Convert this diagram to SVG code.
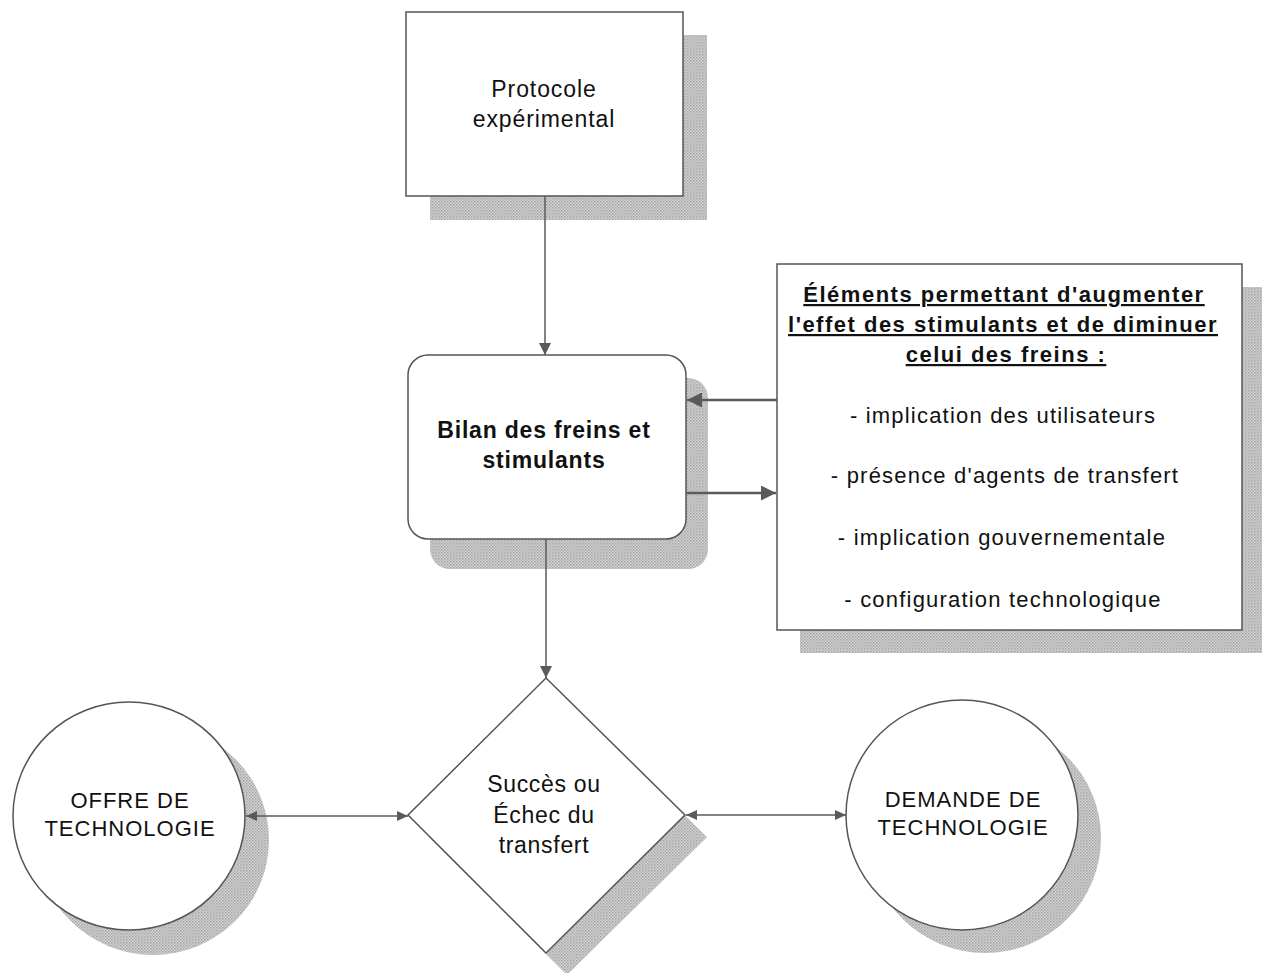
<svg xmlns="http://www.w3.org/2000/svg" width="1262" height="973" viewBox="0 0 1262 973">
  <style>
    .box { fill: #ffffff; stroke: #555555; stroke-width: 1.5; }
    .shadow { fill: url(#halftone); stroke: none; }
    .txt { font-family: "Liberation Sans", Arial, sans-serif; fill: #111111; text-anchor: middle; }
    .reg { font-size: 23px; letter-spacing: 0.9px; }
    .item { font-size: 22px; letter-spacing: 1.2px; }
    .caps { font-size: 22px; letter-spacing: 1px; }
    .bold { font-weight: bold; }
    .head { font-size: 22px; font-weight: bold; letter-spacing: 1.5px; text-decoration: underline; }
    .link { fill: none; stroke: #5a5a5a; stroke-width: 1.5; }
    .link-heavy { fill: none; stroke: #5a5a5a; stroke-width: 2.5; }
  </style>
  <defs>
    <pattern id="halftone" width="3" height="3" patternUnits="userSpaceOnUse">
      <rect width="3" height="3" fill="#d2d2d2"/>
      <rect x="0" y="0" width="1.5" height="1.5" fill="#a4a4a4"/>
      <rect x="1.5" y="1.5" width="1.5" height="1.5" fill="#b4b4b4"/>
    </pattern>
    <marker id="arrow" viewBox="0 0 12 12" refX="12" refY="6" markerWidth="12" markerHeight="12" markerUnits="userSpaceOnUse" orient="auto">
      <path d="M0,0 L12,6 L0,12 Z" fill="#5a5a5a"/>
    </marker>
    <marker id="arrow-big" viewBox="0 0 15 15" refX="15" refY="7.5" markerWidth="15" markerHeight="15" markerUnits="userSpaceOnUse" orient="auto">
      <path d="M0,0 L15,7.5 L0,15 Z" fill="#5a5a5a"/>
    </marker>
    <marker id="arrow-small" viewBox="0 0 11 10" refX="11" refY="5" markerWidth="11" markerHeight="10" markerUnits="userSpaceOnUse" orient="auto-start-reverse">
      <path d="M0,0 L11,5 L0,10 Z" fill="#5a5a5a"/>
    </marker>
  </defs>

  <rect width="1262" height="973" fill="#ffffff"/>

  <!-- Experimental protocol -->
  <g id="protocole">
    <rect class="shadow" x="430" y="35" width="277" height="185"/>
    <rect class="box" x="406" y="12" width="277" height="184"/>
    <text class="txt reg" x="544" y="97">Protocole</text>
    <text class="txt reg" x="544" y="127">expérimental</text>
  </g>

  <!-- Assessment of brakes and stimulants -->
  <g id="bilan">
    <rect class="shadow" x="430" y="378" width="278" height="191" rx="20"/>
    <rect class="box" x="408" y="355" width="278" height="184" rx="20"/>
    <text class="txt bold" x="544" y="438" style="font-size:23px;letter-spacing:0.8px">Bilan des freins et</text>
    <text class="txt bold" x="544" y="468" style="font-size:23px;letter-spacing:0.8px">stimulants</text>
  </g>

  <!-- Elements list -->
  <g id="elements">
    <rect class="shadow" x="800" y="287" width="462" height="366"/>
    <rect class="box" x="777" y="264" width="465" height="366"/>
    <text class="txt head" x="1004" y="302">Éléments permettant d'augmenter</text>
    <text class="txt head" x="1003" y="332">l'effet des stimulants et de diminuer</text>
    <text class="txt head" x="1006" y="362">celui des freins :</text>
    <text class="txt item" x="1003" y="423">- implication des utilisateurs</text>
    <text class="txt item" x="1005" y="483">- présence d'agents de transfert</text>
    <text class="txt item" x="1002" y="545">- implication gouvernementale</text>
    <text class="txt item" x="1003" y="607">- configuration technologique</text>
  </g>

  <!-- Decision: success or failure -->
  <g id="decision">
    <polygon class="shadow" points="567,700 707,837 567,975 429,837"/>
    <polygon class="box" points="546,678 685,815 546,953 408,815"/>
    <text class="txt reg" x="544" y="792" style="letter-spacing:0.7px">Succès ou</text>
    <text class="txt reg" x="544" y="823" style="letter-spacing:0.7px">Échec du</text>
    <text class="txt reg" x="544" y="853" style="letter-spacing:0.7px">transfert</text>
  </g>

  <!-- Technology supply -->
  <g id="offre">
    <ellipse class="shadow" cx="153" cy="840" rx="116" ry="115"/>
    <ellipse class="box" cx="129" cy="816" rx="116" ry="114"/>
    <text class="txt caps" x="130" y="808">OFFRE DE</text>
    <text class="txt caps" x="130" y="836">TECHNOLOGIE</text>
  </g>

  <!-- Technology demand -->
  <g id="demande">
    <ellipse class="shadow" cx="985" cy="838" rx="116" ry="115"/>
    <ellipse class="box" cx="962" cy="815" rx="116" ry="115"/>
    <text class="txt caps" x="963" y="807">DEMANDE DE</text>
    <text class="txt caps" x="963" y="835">TECHNOLOGIE</text>
  </g>

  <!-- Connectors -->
  <g id="connectors">
    <line class="link" x1="545" y1="196" x2="545" y2="355" marker-end="url(#arrow)"/>
    <line class="link-heavy" x1="777" y1="400" x2="687" y2="400" marker-end="url(#arrow-big)"/>
    <line class="link-heavy" x1="686" y1="493" x2="776" y2="493" marker-end="url(#arrow-big)"/>
    <line class="link" x1="546" y1="539" x2="546" y2="678" marker-end="url(#arrow)"/>
    <line class="link" x1="246" y1="816" x2="408" y2="816" marker-start="url(#arrow-small)" marker-end="url(#arrow-small)"/>
    <line class="link" x1="686" y1="815" x2="846" y2="815" marker-start="url(#arrow-small)" marker-end="url(#arrow-small)"/>
  </g>
</svg>
